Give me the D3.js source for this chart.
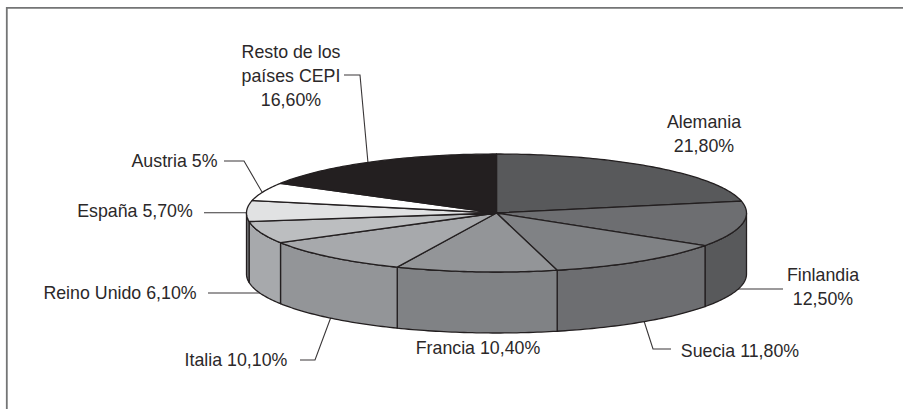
<!DOCTYPE html>
<html><head><meta charset="utf-8">
<script src="https://cdn.jsdelivr.net/npm/d3@7"></script>
<style>html,body{margin:0;padding:0;background:#fff}svg{display:block}text{font-family:"Liberation Sans",Arial,sans-serif;font-size:17.8px;fill:#2b2829}</style>
</head><body><div id="c"></div>
<script>
const categories = ["Alemania","Finlandia","Suecia","Francia","Italia","Reino Unido","España","Austria","Resto de los países CEPI"];
const values = [21.8,12.5,11.8,10.4,10.1,6.1,5.7,5,16.6];
const valueLabels = ["21,80%","12,50%","11,80%","10,40%","10,10%","6,10%","5,70%","5%","16,60%"];
const topColors = ["#58595b","#6d6e71","#808285","#939598","#a7a9ac","#bcbec0","#e1e2e3","#ffffff","#231f20"];
const sideColors = ["#58595b","#58595b","#6d6e71","#808285","#939598","#a7a9ac","#77787b","#ffffff","#231f20"];

const W=903,H=409, cx=496.5, cy=213, rx=250, ry=59, depth=61;
const svg=d3.select("#c").append("svg").attr("width",W).attr("height",H);
const sx=d3.scaleLinear().domain([-1,1]).range([cx-rx,cx+rx]);
const sy=d3.scaleLinear().domain([-1,1]).range([cy+ry,cy-ry]);
const line=d3.line();
const arcs=d3.pie().sort(null).value(d=>d)(values);
const pt=(a,dy=0)=>[sx(Math.sin(a)),sy(Math.cos(a))+dy];
const arcPts=(a0,a1,dy=0)=>{const n=Math.max(2,Math.ceil(Math.abs(a1-a0)*60));return d3.range(n+1).map(i=>pt(a0+(a1-a0)*i/n,dy));};
const stroke="#231f20", sw=1.3;

// frame
svg.append("path").attr("d",`M6.8,${H}V7.8H${W}`).attr("fill","none").attr("stroke","#747576").attr("stroke-width",1.8);

// leaders (drawn below the pie)
const leaders=[
 [[783,289],[730,289]],
 [[671,349],[653,349],[644,321]],
 [[300,360],[315,360],[331,317]],
 [[208,293],[262,293]],
 [[204,212.8],[250,212.8]],
 [[224,161],[244,161],[262,192]],
 [[344,75],[360,75],[368,163]]
];
svg.append("g").selectAll("path").data(leaders).join("path")
  .attr("d",d=>line(d)).attr("fill","none").attr("stroke","#3a3738").attr("stroke-width",1.1);

// side walls, front half only
const lo=Math.PI/2, hi=Math.PI*1.5;
svg.append("g").selectAll("path").data(arcs.filter(d=>d.endAngle>lo&&d.startAngle<hi)).join("path")
  .attr("d",d=>{
    const a0=Math.max(d.startAngle,lo),a1=Math.min(d.endAngle,hi);
    return line([...arcPts(a0,a1),...arcPts(a1,a0,depth)])+"Z";})
  .attr("fill",d=>sideColors[d.index]).attr("stroke",stroke).attr("stroke-width",sw).attr("stroke-linejoin","round");

// top slices
svg.append("g").selectAll("path").data(arcs).join("path")
  .attr("d",d=>line([[cx,cy],...arcPts(d.startAngle,d.endAngle)])+"Z")
  .attr("fill",d=>topColors[d.index]).attr("stroke",stroke).attr("stroke-width",sw).attr("stroke-linejoin","round");

// labels
const labelLines=[
 [categories[0],valueLabels[0]],
 [categories[1],valueLabels[1]],
 [categories[2]+" "+valueLabels[2]],
 [categories[3]+" "+valueLabels[3]],
 [categories[4]+" "+valueLabels[4]],
 [categories[5]+" "+valueLabels[5]],
 [categories[6]+" "+valueLabels[6]],
 [categories[7]+" "+valueLabels[7]],
 ["Resto de los","países CEPI",valueLabels[8]]
];
const labelPos=[[704,128],[823,281],[740,357],[478,354],[236,366],[120,299],[135,217],[174.5,167],[291,58]];
const g=svg.append("g");
labelLines.forEach((ls,i)=>{
  ls.forEach((t,j)=>g.append("text").attr("x",labelPos[i][0]).attr("y",labelPos[i][1]+j*24).attr("text-anchor","middle").text(t));
});
</script></body></html>
